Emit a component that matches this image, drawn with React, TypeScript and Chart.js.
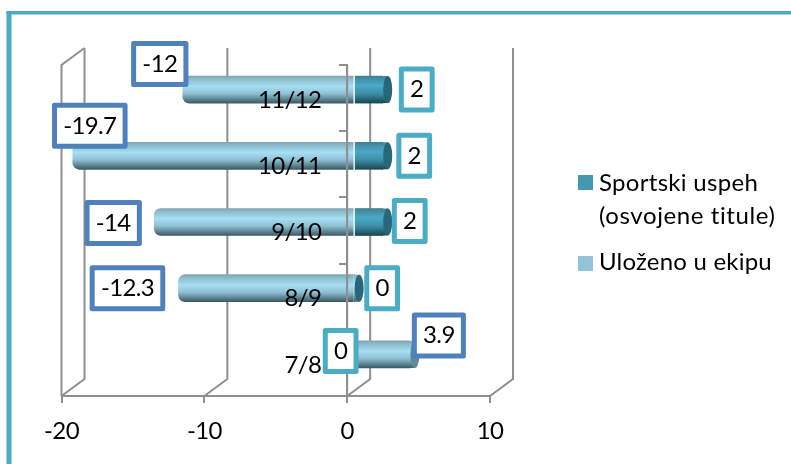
import React, { useEffect, useRef } from "react";
import { Chart, registerables } from "chart.js";

Chart.register(...registerables);

const seasons = ["7/8", "8/9", "9/10", "10/11", "11/12"];
const sportskiUspeh = [0, 0, 2, 2, 2];
const ulozenoUEkipu = [3.9, -12.3, -14, -19.7, -12];
const seriesNames = ["Sportski uspeh (osvojene titule)", "Uloženo u ekipu"];
const xTicks = [-20, -10, 0, 10];

const FONT = "Lato, Carlito, Calibri, sans-serif";
const FONT_SIZE = 24;
const GRAY = "#8f8f8f";
const TEAL = "#4bacc6";
const BLUE = "#4f81bd";
const DX = 7, DY = -8.5;   // depth of the bar row inside the 3D box
const BX = 23, BY = -17;   // depth of the back wall
const RX = 4.5;            // cylinder end cap
const CAP = 5;             // distance from the value to the cap's centre
const BAR_H = 27;
const Y_LABEL_SHIFT = 26;  // gap between the category labels and the axis at 0

// label box centres relative to the end of each bar [series][season]
const labelOffsets = [
  [[-13.5, -3.5], [28, 0], [27, -1], [31.5, 0], [34, 0]],
  [[29, -19], [-51, 0], [-41, 1], [17, -30], [-23, -25.5]],
];

function barGradient(ctx: CanvasRenderingContext2D, top: number, bottom: number, stops: [number, string][]) {
  const g = ctx.createLinearGradient(0, top, 0, bottom);
  stops.forEach(([o, c]) => g.addColorStop(o, c));
  return g;
}
const lightStops: [number, string][] = [[0, "#7fa6b4"], [0.12, "#8dbccd"], [0.38, "#a6def3"], [0.65, "#8fc0d3"], [0.88, "#577d8b"], [1, "#3c5a66"]];
const darkStops: [number, string][] = [[0, "#3f8296"], [0.35, "#4aa9c5"], [0.65, "#3e8ea6"], [0.88, "#24606f"], [1, "#184553"]];

const scriptedFill = (stops: [number, string][], fallback: string) => (c: any) => {
  const yScale = c.chart.scales.y;
  if (c.dataIndex === undefined || !yScale) return fallback;
  const mid = yScale.getPixelForValue(c.dataIndex);
  if (!Number.isFinite(mid)) return fallback;
  return barGradient(c.chart.ctx, mid - BAR_H / 2, mid + BAR_H / 2, stops);
};

const scene3d = {
  id: "scene3d",
  beforeDraw(chart: any) {
    chart.ctx.letterSpacing = "-0.65px";
  },
  beforeDatasetsDraw(chart: any) {
    const { ctx, chartArea: a, scales } = chart;
    const x = scales.x;
    ctx.save();
    ctx.strokeStyle = GRAY;
    ctx.lineWidth = 2;
    const line = (pts: number[][]) => {
      ctx.beginPath();
      pts.forEach(([px, py], i) => (i ? ctx.lineTo(px, py) : ctx.moveTo(px, py)));
      ctx.stroke();
    };
    // left side wall
    line([[a.left, a.bottom], [a.left, a.top], [a.left + BX, a.top + BY]]);
    xTicks.forEach((t) => {
      const px = x.getPixelForValue(t);
      line([[px, a.bottom], [px + BX, a.bottom + BY], [px + BX, a.top + BY]]);
    });
    ctx.restore();
    ctx.save();
    ctx.translate(DX, DY);
  },
  afterDatasetDraw(chart: any, args: any) {
    const { ctx } = chart;
    const meta = args.meta;
    meta.data.forEach((bar: any, i: number) => {
      const v = meta._parsed[i].x;
      const top = bar.y - BAR_H / 2;
      const bottom = bar.y + BAR_H / 2;
      const isOuter = args.index === 0 ? seasons[i] !== "7/8" : v > 0;
      if (!isOuter) return;
      ctx.save();
      const stops = args.index === 0 && v > 0 ? darkStops : lightStops;
      ctx.fillStyle = barGradient(ctx, top, bottom, stops);
      ctx.fillRect(bar.x - 0.5, top, CAP + 0.5, BAR_H);
      ctx.fillStyle = args.index === 0 ? "#28667a" : "#5f8a99";
      ctx.beginPath();
      ctx.ellipse(bar.x + CAP, bar.y, RX, BAR_H / 2, 0, 0, Math.PI * 2);
      ctx.fill();
      ctx.restore();
    });
  },
  afterDatasetsDraw(chart: any) {
    const { ctx, chartArea: a, scales } = chart;
    ctx.restore();
    // the category axis stands in front of the bars
    const px = scales.x.getPixelForValue(0);
    ctx.save();
    ctx.strokeStyle = GRAY;
    ctx.lineWidth = 2;
    ctx.beginPath();
    ctx.moveTo(px, a.top);
    ctx.lineTo(px, a.bottom);
    ctx.stroke();
    ctx.restore();
  },
  afterDraw(chart: any) {
    const { ctx } = chart;
    // value labels
    chart.data.datasets.forEach((ds: any, s: number) => {
      chart.getDatasetMeta(s).data.forEach((bar: any, i: number) => {
        const text = String(ds.data[i]);
        const [ox, oy] = labelOffsets[s][i];
        const cx = bar.x + DX + ox;
        const cy = bar.y + DY + oy;
        ctx.save();
        ctx.font = `${FONT_SIZE}px ${FONT}`;
        const w = ctx.measureText(text).width + 17.5;
        const h = 41;
        ctx.fillStyle = "#fff";
        ctx.strokeStyle = s === 0 ? TEAL : BLUE;
        ctx.lineWidth = 5;
        ctx.lineJoin = "round";
        ctx.beginPath();
        ctx.rect(cx - w / 2, cy - h / 2, w, h);
        ctx.fill();
        ctx.stroke();
        ctx.fillStyle = "#000";
        ctx.textAlign = "center";
        ctx.textBaseline = "middle";
        ctx.fillText(text, cx, cy);
        ctx.restore();
      });
    });
    // legend
    ctx.save();
    ctx.font = `${FONT_SIZE}px ${FONT}`;
    ctx.textBaseline = "alphabetic";
    ctx.fillStyle = "#4398b0";
    ctx.fillRect(578, 175, 15, 15);
    ctx.fillStyle = "#94c3d6";
    ctx.fillRect(578, 256, 15, 15);
    ctx.fillStyle = "#000";
    ctx.letterSpacing = "0.3px";
    ctx.fillText("Sportski uspeh", 599, 191);
    ctx.letterSpacing = "0.6px";
    ctx.fillText("(osvojene titule)", 599, 224);
    ctx.letterSpacing = "0.2px";
    ctx.fillText(seriesNames[1], 599, 270);
    // frame
    ctx.strokeStyle = TEAL;
    ctx.lineWidth = 5;
    ctx.beginPath();
    ctx.moveTo(9, 464);
    ctx.lineTo(9, 11);
    ctx.stroke();
    ctx.lineWidth = 3.5;
    ctx.beginPath();
    ctx.moveTo(6.5, 12.75);
    ctx.lineTo(791, 12.75);
    ctx.stroke();
    ctx.restore();
  },
};

export default function App() {
  const ref = useRef<HTMLCanvasElement>(null);
  useEffect(() => {
    document.body.style.margin = "0";
    const chart = new Chart(ref.current!, {
      type: "bar",
      plugins: [scene3d],
      data: {
        labels: seasons,
        datasets: [
          {
            label: seriesNames[0],
            data: sportskiUspeh,
            clip: false,
            barThickness: BAR_H,
            backgroundColor: scriptedFill(darkStops, "#4398b0"),
          },
          {
            label: seriesNames[1],
            data: ulozenoUEkipu,
            clip: false,
            barThickness: BAR_H,
            borderSkipped: false,
            borderRadius: (c: any) =>
              c.raw < 0 ? { topLeft: 7, bottomLeft: 7, topRight: 0, bottomRight: 0 } : 0,
            backgroundColor: scriptedFill(lightStops, "#94c3d6"),
          },
        ] as any,
      },
      options: {
        indexAxis: "y",
        animation: false,
        responsive: false,
        layout: { padding: { left: 61.5, right: 301, top: 65, bottom: 0 } },
        plugins: { legend: { display: false }, tooltip: { enabled: false } },
        scales: {
          x: {
            type: "linear",
            stacked: true,
            min: -20,
            max: 10,
            afterFit: (s: any) => { s.height = 68; },
            afterBuildTicks: (s: any) => { s.ticks = xTicks.map((value) => ({ value })); },
            grid: { drawOnChartArea: false, color: GRAY, lineWidth: 2, tickLength: 7, tickColor: GRAY, tickWidth: 2 },
            border: { color: GRAY, width: 2 },
            ticks: { font: { family: FONT, size: FONT_SIZE }, color: "#000", padding: 14, maxRotation: 0, autoSkip: false },
          },
          y: {
            type: "category",
            stacked: true,
            reverse: true,
            position: { x: 0 },
            afterFit: (s: any) => {
              if (s.__shifted) return;
              s.__shifted = true;
              const compute = s._computeLabelItems.bind(s);
              s._computeLabelItems = (area: any) =>
                compute(area).map((item: any) => ({
                  ...item,
                  options: {
                    ...item.options,
                    translation: [item.options.translation[0] - Y_LABEL_SHIFT, item.options.translation[1] + 2],
                  },
                }));
            },
            grid: { drawOnChartArea: false, color: GRAY, lineWidth: 2, tickLength: 7, tickColor: GRAY, tickWidth: 2, offset: true, z: 1 },
            border: { color: GRAY, width: 2, z: 1 },
            ticks: { font: { family: FONT, size: FONT_SIZE }, color: "#000", padding: 18, z: 1 },
          },
        },
      } as any,
    });
    return () => chart.destroy();
  }, []);
  return (
    <div style={{ position: "fixed", left: 0, top: 0, width: 791, height: 464, background: "#fff" }}>
      <canvas ref={ref} width={791} height={464} style={{ display: "block" }} />
    </div>
  );
}
